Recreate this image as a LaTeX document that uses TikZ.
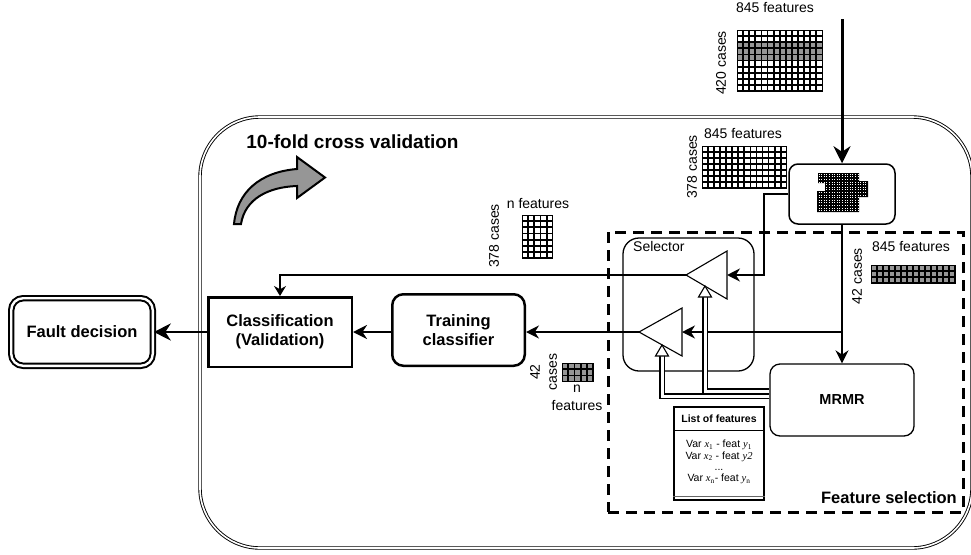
\documentclass[tikz,border=0pt]{standalone}
\usepackage{fontspec}
\setmainfont{Liberation Sans}
\newfontfamily\tms{Liberation Serif}
\usetikzlibrary{arrows.meta,calc}
\newcommand{\vx}[1]{{\tms\itshape x}\textsubscript{\tms #1}}
\newcommand{\vy}[1]{{\tms\itshape y}\textsubscript{\tms #1}}
\newcommand{\mygrid}[6]{%
  \fill[black] ({#1-0.5},{#2-0.5}) rectangle ++({#3*#5+1},{#4*#5+1});
  \foreach \ci in {1,...,#3}{\foreach \cj in {1,...,#4}{
    \fill[#6] ({#1+(\ci-1)*#5+0.9},{#2+(\cj-1)*#5+0.9}) rectangle ++({#5-1.8},{#5-1.8});
  }}%
}
\definecolor{cellgray}{RGB}{150,150,150}
\begin{document}
\begin{tikzpicture}[x=1pt,y=-1pt,
  font=\fontsize{14}{17}\selectfont,
  bigbox/.style={draw, line width=2.5pt, align=center, inner sep=0pt,
    font=\bfseries\fontsize{16.5}{19}\selectfont},
  conn/.style={line width=1.6pt},
  hollow/.style={draw, double=white, double distance=3pt, line width=1.1pt},
  lbl/.style={inner sep=0pt}]
\useasboundingbox (0,0) rectangle (971,554);

% outer cross-validation frame
\node[draw, double=white, double distance=1.6pt, line width=0.9pt, rounded corners=60pt,
  minimum width=772pt, minimum height=431pt, inner sep=0] (outer) at (586,332.5) {};
\node[lbl, font=\bfseries\fontsize{19}{22}\selectfont] (title) at (352.5,142) {10-fold cross validation};

% curved arrow icon
\draw[line width=2pt, fill=cellgray, line join=miter]
  (234,224) .. controls (237,192) and (260,172) .. (297,169) -- (297,157) -- (325,177.5)
  -- (297,198) -- (297,186) .. controls (268,187) and (245,199) .. (241,224) -- cycle;

% feature selection dashed frame
\node[draw, line width=3pt, dash pattern=on 11pt off 7pt, minimum width=355pt,
  minimum height=280pt, inner sep=0] (fs) at (785.5,372) {};
\node[lbl, anchor=east, font=\bfseries\fontsize{16.5}{19}\selectfont] (fslab) at (957,498) {Feature selection};

% selector
\node[draw, line width=1.3pt, rounded corners=16pt, minimum width=131pt,
  minimum height=133pt, inner sep=0] (sel) at (688.5,304.5) {};
\node[lbl, anchor=west] (sellab) at (633,246) {Selector};

% triangles
\coordinate (t1apex) at (686,275); \coordinate (t1base) at (727,275);
\coordinate (t2apex) at (639,332); \coordinate (t2base) at (682,332);
\draw[line width=1.1pt, line join=miter] (t1apex) -- (727,251) -- (727,299) -- cycle;
\draw[line width=1.1pt, line join=miter] (t2apex) -- (682,308) -- (682,356) -- cycle;

% block with mosaic
\node[draw, line width=1.5pt, rounded corners=9pt, minimum width=106pt,
  minimum height=60pt, inner sep=0] (blk) at (842,194) {};
\begin{scope}
  \clip (818,173) -- (859,173) -- (859,181) -- (868,181) -- (868,197) -- (859,197)
    -- (859,212) -- (817,212) -- (817,191) -- (825,191) -- (825,183) -- (818,183) -- cycle;
  \fill[black] (815,170) rectangle (870,214);
  \foreach \yy in {174.3,176.9,...,212}
    \draw[white, line width=0.9pt, dash pattern=on 0.9pt off 1.7pt] (816,\yy) -- (870,\yy);
\end{scope}

% MRMR
\node[draw, line width=1.3pt, rounded corners=10pt, minimum width=144pt,
  minimum height=72pt, font=\bfseries\fontsize{14.5}{17}\selectfont, inner sep=0] (mrmr) at (842,400) {MRMR};

% list of features
\node[draw, line width=2pt, minimum width=90pt, minimum height=93pt, inner sep=0] (lst) at (719,453.5) {};
\draw[line width=0.8pt] (lst.west |- 0,430) -- (lst.east |- 0,430);
\draw[line width=0.8pt, black!60] (lst.west |- 0,496.5) -- (lst.east |- 0,496.5);
\node[lbl, font=\bfseries\fontsize{10.5}{12}\selectfont] (lsthead) at (719,419) {List of features};
\node[lbl, align=center, font=\fontsize{10.5}{11.2}\selectfont] (lstbody) at (719,462)
  {Var \vx{1} - feat \vy{1}\\Var \vx{2} - feat {\tms\itshape y2}\\...\\Var \vx{n}- feat \vy{n}};

% left boxes
\node[draw, double=white, double distance=2.4pt, line width=2pt, rounded corners=12pt,
  minimum width=141.6pt, minimum height=67.6pt, inner sep=0,
  font=\bfseries\fontsize{16.5}{19}\selectfont] (fault) at (82,332) {Fault decision};
\node[bigbox, minimum width=143.5pt, minimum height=69.5pt] (cls) at (280,332) {Classification\\(Validation)};
\node[bigbox, rounded corners=11pt, minimum width=132.5pt, minimum height=71.5pt] (trn) at (458.5,330) {Training\\classifier};

% grids and labels
\mygrid{737}{30}{14}{10}{6.1}{white}
\mygrid{737}{42.2}{14}{3}{6.1}{cellgray}
\node[lbl] (f845a) at (775,8) {845 features};
\node[lbl, rotate=90] (c420) at (721,63) {420 cases};

\mygrid{702}{146}{14}{7}{6.05}{white}
\node[lbl] (f845b) at (743,134) {845 features};
\node[lbl, rotate=90] (c378a) at (692,167) {378 cases};

\mygrid{522}{215}{5}{7}{6.15}{white}
\node[lbl] (fna) at (538,203) {n features};
\node[lbl, rotate=90] (c378b) at (494,236) {378 cases};

\mygrid{871}{265}{14}{3}{6}{cellgray}
\node[lbl] (f845c) at (911,246) {845 features};
\node[lbl, rotate=90] (c42a) at (857,276) {42 cases};

\mygrid{562}{363}{5}{3}{6.2}{cellgray}
\node[lbl, rotate=90, align=center, font=\fontsize{14}{17}\selectfont] (c42b) at (543.5,372) {42\\cases};
\node[lbl, align=center, font=\fontsize{14}{18}\selectfont] (fnb) at (577,398) {n\\features};

% connectors
\coordinate (topin) at (842,19);
\draw[line width=3pt, -{Stealth[length=17pt,width=17pt]}] (topin) -- (blk.north);
\draw[conn, -{Stealth[length=13pt,width=13pt]}] (blk.south) -- (mrmr.north);
\coordinate (j1) at (blk.south |- t2apex);
\draw[conn, -{Stealth[length=13pt,width=13pt]}] (j1) -- (t2base);
\draw[conn, -{Stealth[length=13pt,width=13pt]}] (blk.west) -- ++(-24,0) |- (t1base);
\draw[conn, -{Stealth[length=10pt,width=12pt]}] (t1apex) -| (cls.north);
\draw[conn, -{Stealth[length=13pt,width=13pt]}] (t2apex) -- (t2apex -| trn.east);
\draw[line width=2.2pt, -{Stealth[length=14pt,width=14pt]}] (cls.east -| trn.west) -- (cls.east);
\draw[line width=2.6pt, -{Stealth[length=17pt,width=17pt]}] (cls.west) -- (fault.east);

% hollow arrows from MRMR
\coordinate (hA) at (662,345);
\coordinate (hB) at (705,286);
\draw[hollow] ([yshift=4pt]mrmr.west) -| ([yshift=-10.5pt]hA);
\draw[line width=1.1pt, fill=white, line join=miter] (hA) -- ++(6.5,11) -- ++(-13,0) -- cycle;
\draw[hollow] ([yshift=9pt]mrmr.west) -| ([yshift=-10.5pt]hB);
\draw[line width=1.1pt, fill=white, line join=miter] (hB) -- ++(6.5,11) -- ++(-13,0) -- cycle;
\end{tikzpicture}
\end{document}
